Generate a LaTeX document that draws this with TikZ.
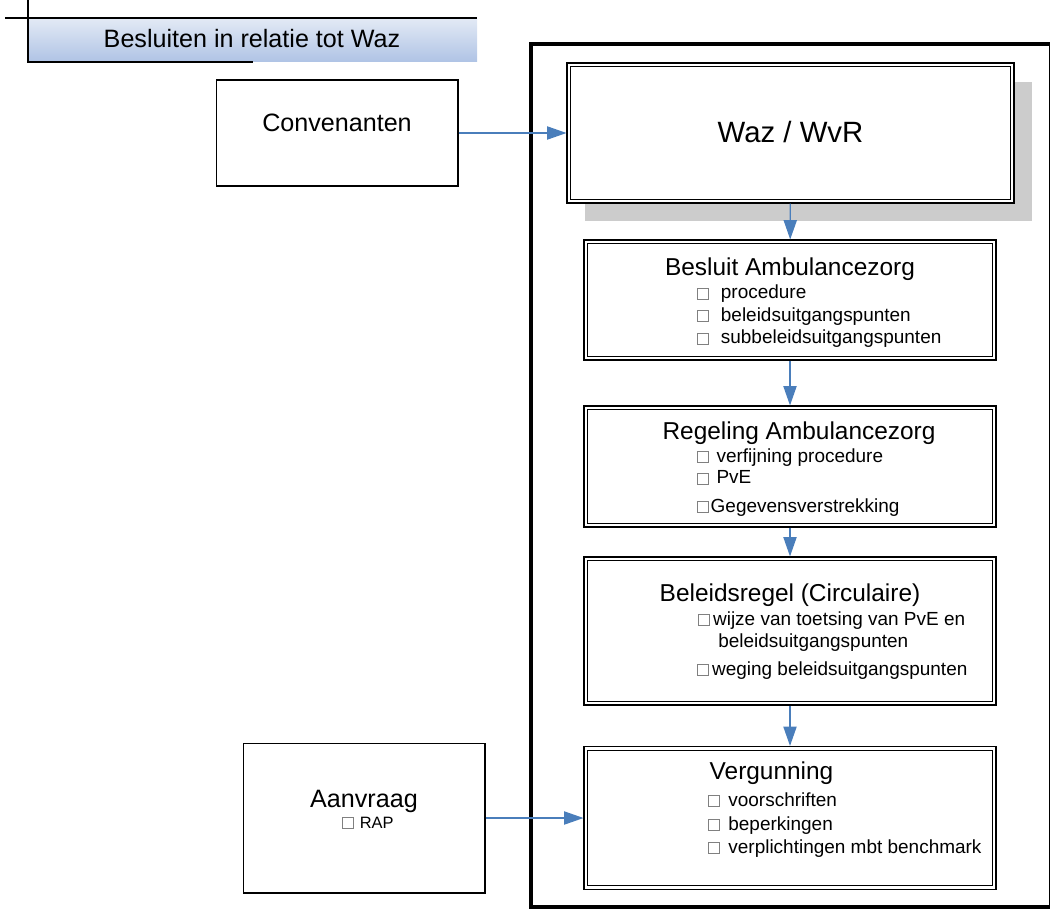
\documentclass[tikz,border=0pt]{standalone}
\usepackage{fontspec}
\setmainfont{Liberation Sans}
\usetikzlibrary{arrows.meta,shadows}
\definecolor{flowblue}{HTML}{4A7EBB}
\definecolor{bartop}{HTML}{E3EAF5}
\definecolor{barbot}{HTML}{AFC3E5}
\definecolor{shadowgray}{HTML}{CCCCCC}
% small hollow square used as list bullet
\newcommand{\bx}{\textcolor{gray}{\setlength{\fboxsep}{0pt}\setlength{\fboxrule}{0.4pt}\fbox{\rule{0pt}{5.6pt}\hspace{5.6pt}}}}
\tikzset{
  lawbox/.style={draw, line width=0.65pt, fill=white, inner sep=0pt},
  innerline/.style={draw, line width=0.65pt},
  plainbox/.style={draw, line width=0.6pt, fill=white, inner sep=0pt},
  flow/.style={flowblue, line width=0.75pt, -{Triangle[length=11pt,width=7.5pt]}},
  boxtitle/.style={anchor=base, inner sep=0pt, font=\fontsize{13.9}{16}\selectfont},
  listline/.style={anchor=base west, inner sep=0pt, font=\fontsize{10.8}{13}\selectfont},
}
\begin{document}
\begin{tikzpicture}[x=0.02cm, y=-0.02cm]
  \useasboundingbox (0,0) rectangle (1050,909);

  % title bar
  \shade[top color=bartop, bottom color=barbot] (28,18) rectangle (477,62);
  \draw[line width=0.6pt] (5,18) -- (477,18);
  \draw[line width=0.7pt] (28,0) -- (28,62) -- (253,62);
  \node[anchor=base, inner sep=0pt, font=\fontsize{14.3}{17}\selectfont] (title) at (252,48) {Besluiten in relatie tot Waz};

  % outer frame
  \draw[line width=2pt] (531,44) rectangle (1050.5,907);

  % boxes
  \node[plainbox, minimum width=4.84cm, minimum height=2.12cm] (conv) at (337,133) {};
  \node[plainbox, minimum width=4.84cm, minimum height=3cm] (aanvraag) at (364,818) {};
  \node[lawbox, minimum width=8.94cm, minimum height=2.8cm,
    drop shadow={shadow xshift=0.36cm, shadow yshift=-0.37cm, fill=shadowgray, opacity=1}] (waz) at (790.5,133) {};
  \node[lawbox, minimum width=8.24cm, minimum height=2.4cm] (besluit) at (790,300) {};
  \node[lawbox, minimum width=8.24cm, minimum height=2.42cm] (regeling) at (790,466.5) {};
  \node[lawbox, minimum width=8.24cm, minimum height=2.96cm] (beleid) at (790,631) {};
  \node[lawbox, minimum width=8.24cm, minimum height=2.86cm] (vergunning) at (790,818) {};
  % second (inner) border line
  \foreach \b in {waz,besluit,regeling,beleid,vergunning}
    \draw[innerline] ([xshift=2.4pt,yshift=-2.4pt]\b.north west) rectangle ([xshift=-2.4pt,yshift=2.4pt]\b.south east);

  % texts
  \node[anchor=base, inner sep=0pt, font=\fontsize{14.3}{17}\selectfont] (conv-t) at (337,131) {Convenanten};
  \node[anchor=base, inner sep=0pt, font=\fontsize{16.7}{20}\selectfont] (waz-t) at (790.5,142) {Waz / WvR};

  \node[boxtitle] (besluit-t) at (790,275) {Besluit Ambulancezorg};
  \node[listline] (besluit-1) at (697,298.5) {\bx\hspace{7pt}procedure};
  \node[listline] (besluit-2) at (697,321) {\bx\hspace{7pt}beleidsuitgangspunten};
  \node[listline] (besluit-3) at (697,343.5) {\bx\hspace{7pt}subbeleidsuitgangspunten};

  \node[boxtitle] (regeling-t) at (799,439) {Regeling Ambulancezorg};
  \node[listline] (regeling-1) at (697,462) {\bx\hspace{4.5pt}verfijning procedure};
  \node[listline] (regeling-2) at (697,483.5) {\bx\hspace{4.5pt}PvE};
  \node[listline] (regeling-3) at (697,512) {\bx\hspace{1.2pt}Gegevensverstrekking};

  \node[boxtitle] (beleid-t) at (790,601) {Beleidsregel (Circulaire)};
  \node[listline] (beleid-1) at (698,625) {\bx\hspace{2pt}wijze van toetsing van PvE en};
  \node[listline] (beleid-2) at (718,647) {beleidsuitgangspunten};
  \node[listline] (beleid-3) at (697,675) {\bx\hspace{2pt}weging beleidsuitgangspunten};

  \node[boxtitle] (vergunning-t) at (771.5,779) {Vergunning};
  \node[listline] (vergunning-1) at (708,806) {\bx\hspace{5pt}voorschriften};
  \node[listline] (vergunning-2) at (708,830) {\bx\hspace{5pt}beperkingen};
  \node[listline] (vergunning-3) at (708,853) {\bx\hspace{5pt}verplichtingen mbt benchmark};

  \node[anchor=base, inner sep=0pt, font=\fontsize{14.3}{17}\selectfont] (aanvraag-t) at (364,807) {Aanvraag};
  \node[anchor=base west, inner sep=0pt, font=\fontsize{9.35}{11}\selectfont] (aanvraag-1) at (342,828) {\bx\hspace{3.5pt}RAP};

  % connectors
  \draw[flow] (conv.east) -- (waz.west);
  \draw[flow] (aanvraag.east) -- (vergunning.west);
  \draw[flow] (waz) -- (besluit);
  \draw[flow] (besluit) -- (regeling);
  \draw[flow] (regeling) -- (beleid);
  \draw[flow] (beleid) -- (vergunning);
\end{tikzpicture}
\end{document}
